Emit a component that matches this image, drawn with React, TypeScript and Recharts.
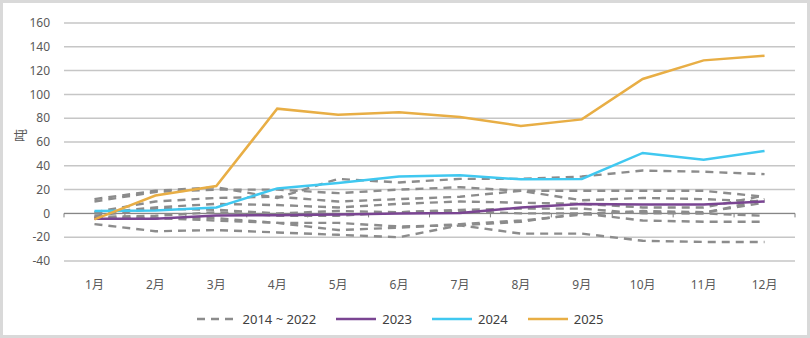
import React from "react";
import { LineChart, Line, XAxis, YAxis, CartesianGrid, Legend, ReferenceLine } from "recharts";

const months = ["1月", "2月", "3月", "4月", "5月", "6月", "7月", "8月", "9月", "10月", "11月", "12月"];
const yTicks = [-40, -20, 0, 20, 40, 60, 80, 100, 120, 140, 160];

const y2014 = [12, 19, 22, 13, 29, 26, 29, 29, 31, 36, 35, 33];
const y2015 = [10, 18, 20, 20, 17, 20, 22, 19, 19, 19, 19, 14];
const y2016 = [1, 10, 13, 14, 10, 12, 14, 19, 11, 13, 12, 10];
const y2017 = [0, 5, 8, 7, 5, 8, 10, 9, 8, 5, 5, 15];
const y2018 = [-2, 4, 3, 0, 2, 1, 3, 4, 4, 0, 0, -2];
const y2019 = [-3, -2, 1, -2, -2, 1, 2, 0, 0, -6, -7, -7];
const y2020 = [-4, -4, -4, -8, -8, -11, -10, -7, 0, 1, 0, 12];
const y2021 = [-9, -15, -14, -16, -18, -20, -10, -17, -17, -23, -24, -24];
const y2022 = [-3, -4, -6, -8, -14, -12, -9, -6, -1, 2, 1, 9];
const y2023 = [-4.5, -4.5, -1.7, -1.5, -1, 0, 0.3, 5, 8, 7.5, 7.5, 10];
const y2024 = [2, 2.5, 5, 21, 25.5, 31, 32, 28.6, 29, 50.8, 45, 52.5];
const y2025 = [-5, 15, 23, 88, 83, 85, 81, 73.5, 79, 113, 128.6, 132.5];

const history = [
  { key: "y2014", values: y2014 },
  { key: "y2015", values: y2015 },
  { key: "y2016", values: y2016 },
  { key: "y2017", values: y2017 },
  { key: "y2018", values: y2018 },
  { key: "y2019", values: y2019 },
  { key: "y2020", values: y2020 },
  { key: "y2021", values: y2021 },
  { key: "y2022", values: y2022 },
];

const data = months.map((m, i) => {
  const row: Record<string, number | string> = { month: m, y2023: y2023[i], y2024: y2024[i], y2025: y2025[i] };
  history.forEach((h) => (row[h.key] = h.values[i]));
  return row;
});

const legendItems = [
  { label: "2014 ~ 2022", color: "#8c8c8c", dash: "8 6" },
  { label: "2023", color: "#7a4592", dash: undefined },
  { label: "2024", color: "#40c8f0", dash: undefined },
  { label: "2025", color: "#e8ae45", dash: undefined },
];

const font = "'Noto Sans', 'Noto Sans CJK SC', sans-serif";

function renderLegend() {
  return (
    <div style={{ display: "flex", justifyContent: "center", alignItems: "center", gap: 18, fontFamily: font, fontSize: 13, color: "#404040" }}>
      {legendItems.map((it) => (
        <div key={it.label} style={{ display: "flex", alignItems: "center" }}>
          <svg width={44} height={10} style={{ marginRight: 4 }}>
            <line x1={2} y1={5} x2={42} y2={5} stroke={it.color} strokeWidth={it.dash ? 2.4 : 2.5} strokeDasharray={it.dash} />
          </svg>
          <span>{it.label}</span>
        </div>
      ))}
    </div>
  );
}

function ZeroLine(props: any) {
  const { x1, x2, y1 } = props;
  const n = months.length;
  const step = (x2 - x1) / n;
  const ticks = [];
  for (let i = 0; i <= n; i++) {
    const x = x1 + step * i;
    ticks.push(<line key={i} x1={x} y1={y1} x2={x} y2={y1 + 4} stroke="#7f7f7f" strokeWidth={1} />);
  }
  return (
    <g>
      <line x1={x1} y1={y1} x2={x2} y2={y1} stroke="#7f7f7f" strokeWidth={1} />
      {ticks}
    </g>
  );
}

export default function App() {
  return (
    <div style={{ position: "absolute", left: 0, top: 0, width: 810, height: 338, boxSizing: "border-box", border: "3px solid #d9d9d9", background: "#fff" }}>
      <LineChart width={804} height={332} data={data} margin={{ top: 20, right: 12, left: 0, bottom: 4 }}>
        <CartesianGrid vertical={false} stroke="#c6c6c6" strokeWidth={1.5} />
        <XAxis
          dataKey="month"
          scale="band"
          axisLine={false}
          tickLine={false}
          height={49}
          tickMargin={13}
          tick={{ fill: "#595959", fontSize: 12, fontFamily: font }}
        />
        <YAxis
          domain={[-40, 160]}
          ticks={yTicks}
          width={61}
          axisLine={false}
          tickLine={false}
          tickMargin={8}
          tick={{ fill: "#595959", fontSize: 12, fontFamily: font }}
          label={{ value: "吨", angle: -90, position: "insideLeft", offset: 17, fill: "#595959", fontSize: 13, fontFamily: font }}
        />
        <ReferenceLine y={0} shape={ZeroLine} />
        {history.map((h) => (
          <Line
            key={h.key}
            dataKey={h.key}
            stroke="#8c8c8c"
            strokeWidth={2.4}
            strokeDasharray="8 6"
            dot={false}
            legendType="none"
            isAnimationActive={false}
          />
        ))}
        <Line dataKey="y2023" stroke="#7a4592" strokeWidth={2.5} dot={false} isAnimationActive={false} />
        <Line dataKey="y2024" stroke="#40c8f0" strokeWidth={2.5} dot={false} isAnimationActive={false} />
        <Line dataKey="y2025" stroke="#e8ae45" strokeWidth={2.5} dot={false} isAnimationActive={false} />
        <Legend verticalAlign="bottom" height={21} content={renderLegend} />
      </LineChart>
    </div>
  );
}
